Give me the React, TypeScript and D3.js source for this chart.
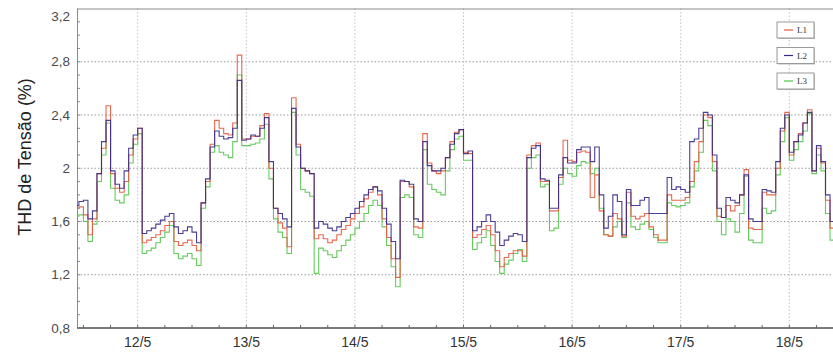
import React from "react";
import * as d3 from "d3";

// Hourly samples, first sample at hour 10 of 11/5 (hours counted from 11/5 00:00)
const START_HOUR = 10;
const L1 = [
  1.7, 1.71, 1.65, 1.5, 1.62, 1.96, 2.15, 2.47, 1.96, 1.85,
  1.82, 1.9, 2.1, 2.22, 2.3, 1.44, 1.46, 1.48, 1.5, 1.53,
  1.57, 1.6, 1.45, 1.42, 1.44, 1.46, 1.42, 1.38, 1.74, 1.9,
  2.18, 2.36, 2.3, 2.26, 2.25, 2.34, 2.85, 2.22, 2.22, 2.24,
  2.24, 2.32, 2.41, 2.0, 1.7, 1.59, 1.55, 1.41, 2.53, 2.18,
  2.0, 1.98, 1.96, 1.47, 1.5, 1.47, 1.44, 1.46, 1.5, 1.54,
  1.57, 1.62, 1.66, 1.71, 1.77, 1.82, 1.86, 1.8, 1.62, 1.48,
  1.32, 1.18, 1.9, 1.9, 1.86, 1.56, 1.55, 2.26, 2.04, 1.98,
  1.96, 1.98, 2.08, 2.2, 2.27, 2.29, 2.12, 2.11, 1.48, 1.5,
  1.54, 1.57, 1.5, 1.38, 1.26, 1.33, 1.36, 1.38, 1.38, 1.34,
  2.1, 2.17, 2.19, 1.9, 1.9, 1.68, 1.68, 1.93, 2.21, 2.06,
  2.05, 2.12, 2.13, 2.12, 1.78, 1.95, 1.68, 1.5, 1.49, 1.66,
  1.62, 1.49, 1.82, 1.64, 1.62, 1.64, 1.66, 1.56, 1.5, 1.46,
  1.46, 1.8, 1.76, 1.76, 1.76, 1.78, 1.9, 2.05, 2.2, 2.4,
  2.38, 2.05, 1.64, 1.63, 1.72, 1.68, 1.72, 1.8, 1.99, 1.55,
  1.54, 1.54, 1.82, 1.8, 1.8, 2.0, 2.28, 2.42, 2.1, 2.2,
  2.26, 2.34, 2.44, 1.98, 2.15, 2.04, 1.76, 1.55, 1.5,
];
const L2 = [
  1.72, 1.75, 1.76, 1.62, 1.68, 1.96, 2.2, 2.36, 1.98, 1.88,
  1.85, 1.98, 2.15, 2.25, 2.3, 1.51, 1.53, 1.55, 1.58, 1.61,
  1.64, 1.66, 1.56, 1.51, 1.53, 1.56, 1.52, 1.44, 1.74, 1.92,
  2.16, 2.28, 2.24, 2.22, 2.23, 2.3, 2.66, 2.21, 2.22, 2.25,
  2.24, 2.3, 2.38, 2.05, 1.7, 1.66, 1.62, 1.56, 2.45, 2.16,
  2.0, 1.98, 1.96, 1.55, 1.6, 1.58, 1.55, 1.53, 1.56, 1.6,
  1.63, 1.66, 1.7, 1.75, 1.8, 1.84, 1.86, 1.83, 1.7, 1.58,
  1.45, 1.32, 1.91, 1.9, 1.88, 1.62, 1.6, 2.2, 2.02, 1.98,
  1.98, 2.0, 2.08, 2.18, 2.26, 2.29, 2.11, 2.13, 1.53, 1.56,
  1.6, 1.65, 1.6, 1.52, 1.42, 1.46, 1.49, 1.51, 1.5, 1.45,
  2.08, 2.15, 2.17, 1.92, 1.91, 1.7, 1.7, 1.95, 2.08, 2.04,
  2.04, 2.14, 2.16, 2.16, 2.05, 2.16, 1.8, 1.55, 1.64, 1.8,
  1.75, 1.5, 1.84, 1.72, 1.72, 1.76, 1.78, 1.66, 1.66, 1.66,
  1.66, 1.93, 1.84, 1.86, 1.84, 1.82, 2.2, 2.22, 2.3, 2.42,
  2.4, 2.1, 1.7, 1.63, 1.78, 1.76, 1.74, 1.8, 1.95, 1.62,
  1.6, 1.6, 1.84, 1.83, 1.82, 2.05, 2.3, 2.4, 2.12, 2.2,
  2.25, 2.34, 2.42, 1.98, 2.17, 2.05, 1.8, 1.6, 1.58,
];
const L3 = [
  1.64, 1.65, 1.6, 1.45, 1.58, 1.9, 2.1, 2.34, 1.85, 1.76,
  1.74, 1.8, 2.04, 2.18, 2.26, 1.36, 1.38, 1.4, 1.44, 1.48,
  1.52, 1.57, 1.36, 1.32, 1.34, 1.36, 1.32, 1.27, 1.7, 1.86,
  2.12, 2.17, 2.12, 2.1, 2.08, 2.2, 2.7, 2.17, 2.17, 2.18,
  2.19, 2.22, 2.33, 1.92, 1.62, 1.52, 1.48, 1.36, 2.42, 2.1,
  1.84, 1.82, 1.79, 1.21, 1.4, 1.38, 1.35, 1.33, 1.38, 1.42,
  1.46, 1.5, 1.55, 1.6, 1.66, 1.72, 1.76, 1.72, 1.56, 1.42,
  1.26, 1.11, 1.78, 1.8, 1.78, 1.5, 1.48, 2.14, 1.88, 1.84,
  1.82, 1.8, 1.98, 2.14, 2.22, 2.24, 2.06, 2.06, 1.39, 1.44,
  1.48, 1.53, 1.42, 1.3, 1.21, 1.28, 1.31, 1.36, 1.39, 1.3,
  2.0, 2.08, 2.1, 1.86, 1.88, 1.53, 1.55, 1.88, 2.0, 1.96,
  1.94, 2.02, 2.05, 2.04, 1.96, 2.0, 1.7, 1.5, 1.49, 1.56,
  1.6, 1.48, 1.74, 1.56, 1.54, 1.58, 1.6, 1.54, 1.48, 1.44,
  1.44, 1.74, 1.72, 1.71, 1.72, 1.74, 1.86, 1.98, 2.12, 2.36,
  2.32, 1.98, 1.6, 1.5, 1.62, 1.6, 1.52, 1.66, 1.94, 1.46,
  1.44, 1.44, 1.7, 1.66, 1.68, 1.95, 2.2, 2.38, 2.06, 2.14,
  2.2, 2.28, 2.41, 1.96, 2.1, 1.98, 1.66, 1.46, 1.44,
];

const dayHours = [24, 48, 72, 96, 120, 144, 168];
const dayLabels = ["12/5", "13/5", "14/5", "15/5", "16/5", "17/5", "18/5"];
const yTicks = [0.8, 1.2, 1.6, 2.0, 2.4, 2.8, 3.2];
const yTickLabels = ["0,8", "1,2", "1,6", "2", "2,4", "2,8", "3,2"];
const seriesNames = ["L1", "L2", "L3"];
const seriesColors = ["#e6583c", "#35298a", "#55c44e"];

const W = 833;
const H = 352;
const left = 77;
const right = 833;
const top = 8.5;
const bottom = 328;

export default function App() {
  const x = d3.scaleLinear().domain([24, 168]).range([137.7, 789.3]);
  const y = d3.scaleLinear().domain([0.8, 3.2]).range([bottom, top]);

  const line = d3
    .line<number>()
    .x((_, i) => x(START_HOUR + i))
    .y((d) => y(d))
    .curve(d3.curveStepAfter);

  const series = [L1, L2, L3];
  const drawOrder = [2, 0, 1];

  const minorX: number[] = [];
  for (let h = 6; h < 180; h += 6) minorX.push(h);
  const minorY: number[] = [];
  for (let v = 0.9; v < 3.2; v += 0.1) minorY.push(Math.round(v * 10) / 10);

  const font = "Liberation Sans, Arial, sans-serif";

  return (
    <svg
      width={W}
      height={H}
      style={{ position: "absolute", left: 0, top: 0, background: "#fff" }}
    >
      <defs>
        <clipPath id="plotClip">
          <rect x={left} y={top} width={right - left} height={bottom - top} />
        </clipPath>
      </defs>
      <rect x={0} y={0} width={W} height={H} fill="#fff" />

      {/* grid */}
      {yTicks.slice(1, -1).map((v) => (
        <line
          key={"gy" + v}
          x1={left}
          x2={right}
          y1={y(v)}
          y2={y(v)}
          stroke="#9a9a9a"
          strokeWidth={1}
          strokeDasharray="1.5,2"
        />
      ))}
      {dayHours.map((h) => (
        <line
          key={"gx" + h}
          x1={x(h)}
          x2={x(h)}
          y1={top}
          y2={bottom}
          stroke="#c4c4c4"
          strokeWidth={1}
          strokeDasharray="1.5,2"
        />
      ))}

      {/* frame */}
      <line x1={left} x2={right} y1={top + 0.5} y2={top + 0.5} stroke="#8a8a8a" strokeWidth={1} />
      <line x1={left + 0.5} x2={left + 0.5} y1={top} y2={bottom} stroke="#8a8a8a" strokeWidth={1} />

      {/* series */}
      <g clipPath="url(#plotClip)">
        {drawOrder.map((k) => (
          <path
            key={seriesNames[k]}
            d={line(series[k]) || ""}
            fill="none"
            stroke={seriesColors[k]}
            strokeWidth={1.1}
            strokeOpacity={0.9}
          />
        ))}
      </g>

      {/* bottom axis */}
      <line x1={left} x2={right} y1={bottom} y2={bottom} stroke="#7a7a7a" strokeWidth={2} />
      {minorX.map((h) => {
        const xx = x(h);
        if (xx < left || xx > right) return null;
        return (
          <line key={"mx" + h} x1={xx} x2={xx} y1={bottom - 3} y2={bottom} stroke="#666" strokeWidth={1} />
        );
      })}
      {minorY.map((v) => (
        <line
          key={"my" + v}
          x1={left}
          x2={left + 3}
          y1={y(v)}
          y2={y(v)}
          stroke="#888"
          strokeWidth={1}
        />
      ))}

      {/* y tick labels */}
      {yTicks.map((v, i) => (
        <text
          key={"yl" + v}
          x={70}
          y={Math.max(y(v), 16)}
          dy="0.35em"
          textAnchor="end"
          fontFamily={font}
          fontSize={13.5}
          fill="#4a4a4a"
        >
          {yTickLabels[i]}
        </text>
      ))}

      {/* x tick labels */}
      {dayHours.map((h, i) => (
        <text
          key={"xl" + h}
          x={x(h)}
          y={342}
          dy="0.35em"
          textAnchor="middle"
          fontFamily={font}
          fontSize={14}
          fill="#333"
        >
          {dayLabels[i]}
        </text>
      ))}

      {/* y title */}
      <text
        transform={`translate(25,157) rotate(-90)`}
        dy="0.35em"
        textAnchor="middle"
        fontFamily={font}
        fontSize={18}
        fill="#222"
      >
        THD de Tensão (%)
      </text>

      {/* legend */}
      {seriesNames.map((name, i) => {
        const by = 22 + i * 25.5;
        return (
          <g key={"lg" + name}>
            <rect x={778} y={by + 1} width={37} height={16} fill="#bbb" />
            <rect x={777} y={by} width={37} height={16} fill="#fff" stroke="#9a9a9a" strokeWidth={1} />
            <line x1={784} x2={793} y1={by + 8} y2={by + 8} stroke={seriesColors[i]} strokeWidth={1.2} />
            <text
              x={797}
              y={by + 8}
              dy="0.35em"
              fontFamily="Liberation Serif, serif"
              fontSize={9}
              fill="#333"
            >
              {name}
            </text>
          </g>
        );
      })}
    </svg>
  );
}
